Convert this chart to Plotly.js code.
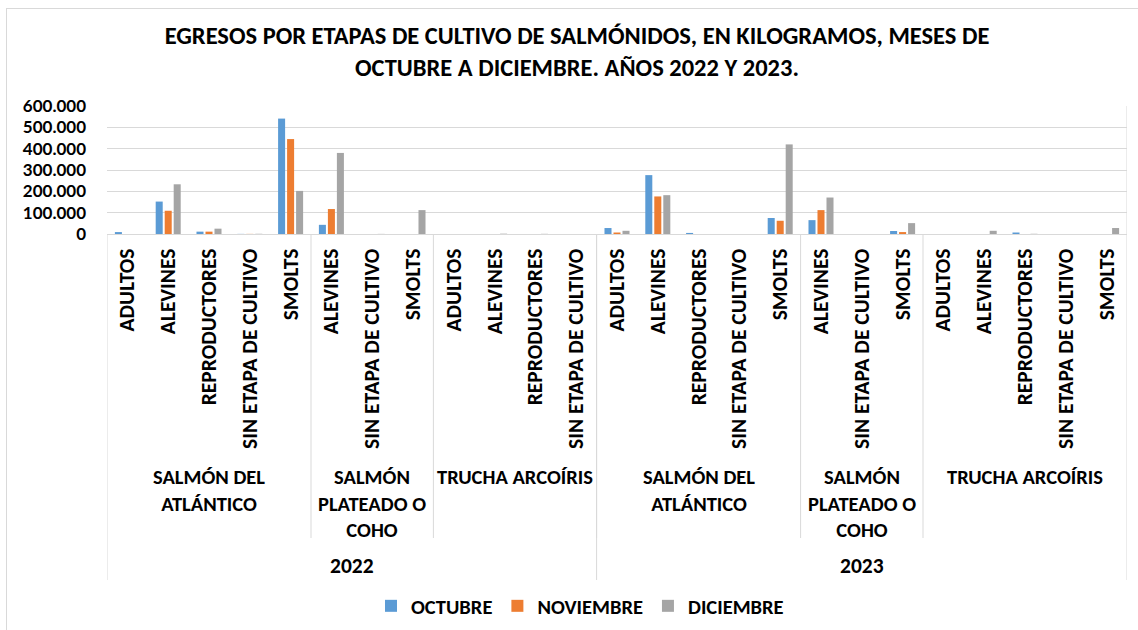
<!DOCTYPE html>
<html><head><meta charset="utf-8">
<script src="https://cdn.plot.ly/plotly-3.0.1.min.js"></script>
<style>
html,body{margin:0;padding:0;background:#fff}
#frame{position:absolute;left:6px;top:8px;width:1200px;height:700px;border:1px solid #d9d9d9;}
#chart{position:absolute;left:0;top:0;width:1138px;height:630px}
</style>
</head><body><div id="frame"></div><div id="chart"></div><script>
const years = ['2022','2022','2022','2022','2022','2022','2022','2022','2022','2022','2022','2022',
  '2023','2023','2023','2023','2023','2023','2023','2023','2023','2023','2023','2023','2023'];
const species = [
  'SALMÓN DEL ATLÁNTICO','SALMÓN DEL ATLÁNTICO','SALMÓN DEL ATLÁNTICO','SALMÓN DEL ATLÁNTICO','SALMÓN DEL ATLÁNTICO',
  'SALMÓN PLATEADO O COHO','SALMÓN PLATEADO O COHO','SALMÓN PLATEADO O COHO',
  'TRUCHA ARCOÍRIS','TRUCHA ARCOÍRIS','TRUCHA ARCOÍRIS','TRUCHA ARCOÍRIS',
  'SALMÓN DEL ATLÁNTICO','SALMÓN DEL ATLÁNTICO','SALMÓN DEL ATLÁNTICO','SALMÓN DEL ATLÁNTICO','SALMÓN DEL ATLÁNTICO',
  'SALMÓN PLATEADO O COHO','SALMÓN PLATEADO O COHO','SALMÓN PLATEADO O COHO',
  'TRUCHA ARCOÍRIS','TRUCHA ARCOÍRIS','TRUCHA ARCOÍRIS','TRUCHA ARCOÍRIS','TRUCHA ARCOÍRIS'];
const stages = [
  'ADULTOS','ALEVINES','REPRODUCTORES','SIN ETAPA DE CULTIVO','SMOLTS',
  'ALEVINES','SIN ETAPA DE CULTIVO','SMOLTS',
  'ADULTOS','ALEVINES','REPRODUCTORES','SIN ETAPA DE CULTIVO',
  'ADULTOS','ALEVINES','REPRODUCTORES','SIN ETAPA DE CULTIVO','SMOLTS',
  'ALEVINES','SIN ETAPA DE CULTIVO','SMOLTS',
  'ADULTOS','ALEVINES','REPRODUCTORES','SIN ETAPA DE CULTIVO','SMOLTS'];
const octubre   = [9000,152000,11000,500,541000, 43000,0,0, 0,0,0,0, 28000,276000,5000,0,75000, 65000,0,14000, 0,0,7000,0,0];
const noviembre = [0,109000,11000,500,445000, 117000,0,0, 0,0,0,0, 7000,176000,0,0,62000, 112000,0,9000, 0,0,0,0,0];
const diciembre = [0,233000,25000,1000,202000, 380000,500,112000, 0,1500,800,0, 15000,182000,0,0,420000, 171000,0,51000, 0,15000,1000,0,28000];
const seriesNames = ['OCTUBRE','NOVIEMBRE','DICIEMBRE'];
const seriesColors = ['#5B9BD5','#ED7D31','#A5A5A5'];
const titleText = 'EGRESOS POR ETAPAS DE CULTIVO DE SALMÓNIDOS, EN KILOGRAMOS, MESES DE<br>OCTUBRE A DICIEMBRE. AÑOS 2022 Y 2023.';

const W = 1138, H = 630;
const M = {l:107, r:11, t:106, b:396};
const plotW = W - M.l - M.r, plotH = H - M.t - M.b;
const pyToPaper = py => -(py - (H - M.b)) / plotH;   // pixel y -> paper y
const xs = stages.map((_, i) => i);
const n = xs.length;
const catPx = plotW / n;
const FAM = 'Carlito, Lato, sans-serif';
const font = (size, fam) => ({family:fam || FAM, size:size, color:'#000', weight:700});

function runs(keyFn){
  const out=[]; let s=0;
  for(let i=1;i<=n;i++){ if(i===n || keyFn(i)!==keyFn(s)){ out.push({start:s,end:i-1}); s=i; } }
  return out;
}
function wrap(text, maxPx){
  const maxChars = Math.floor(maxPx/10.5);
  const words = text.split(' '); const lines=[]; let cur='';
  words.forEach(w=>{ const t = cur ? cur+' '+w : w; if(t.length>maxChars && cur){ lines.push(cur); cur=w; } else cur=t; });
  if(cur) lines.push(cur);
  return lines.join('<br>');
}
const speciesRuns = runs(i => years[i]+'|'+species[i]);
const yearRuns = runs(i => years[i]);

const shapes = [];
const annotations = [];
speciesRuns.forEach((r, k) => {
  if (k>0) shapes.push({type:'line', xref:'x', yref:'paper', x0:r.start-0.5, x1:r.start-0.5, y0:0, y1:pyToPaper(538), line:{color:'#d9d9d9', width:1}});
  annotations.push({xref:'x', yref:'paper', x:(r.start+r.end)/2, y:pyToPaper(462), yanchor:'top', xanchor:'center',
    text: wrap(species[r.start], (r.end-r.start+1)*catPx), showarrow:false, font:font(20.5), align:'center'});
});
yearRuns.forEach((r, k) => {
  shapes.push({type:'line', xref:'x', yref:'paper', x0:r.start-0.5, x1:r.start-0.5, y0:0, y1:pyToPaper(580), line:{color:'#d9d9d9', width:1}});
  if (k===yearRuns.length-1) shapes.push({type:'line', xref:'x', yref:'paper', x0:r.end+0.5, x1:r.end+0.5, y0:1, y1:pyToPaper(580), line:{color:'#d9d9d9', width:1}});
  annotations.push({xref:'x', yref:'paper', x:(r.start+r.end)/2, y:pyToPaper(566), yanchor:'middle', xanchor:'center',
    text: years[r.start], showarrow:false, font:font(21.5)});
});

const values = [octubre, noviembre, diciembre];
const traces = values.map((v, k) => ({
  type:'bar', x:xs, y:v, name:seriesNames[k],
  marker:{color:seriesColors[k], line:{width:0}},
  hoverinfo:'skip'
}));

const layout = {
  width:W, height:H, margin:M,
  paper_bgcolor:'rgba(0,0,0,0)', plot_bgcolor:'rgba(0,0,0,0)',
  separators:',.',
  barmode:'group', bargap:0.338, bargroupgap:0.22,
  title:{text:titleText, font:font(24.5),
    xref:'container', x:577/W, xanchor:'center', yref:'container', y:1-44/H, yanchor:'middle'},
  xaxis:{range:[-0.5, n-0.5], tickmode:'array', tickvals:xs, ticktext:stages.map(s=>'<b>'+s+'</b>'), tickangle:-90,
    showgrid:false, zeroline:false, showline:true, linecolor:'#d9d9d9', linewidth:1, ticks:'',
    tickfont:font(21.5), automargin:false, ticklabelstandoff:5},
  yaxis:{range:[0,600000], dtick:100000, tick0:0, tickformat:',', showgrid:true, gridcolor:'#d9d9d9', gridwidth:1,
    zeroline:false, showline:false, ticks:'', tickfont:font(17, 'Lato, sans-serif'), automargin:false, ticklabelstandoff:20},
  legend:{orientation:'h', xref:'container', x:580/W, xanchor:'center', yref:'container', y:1-606/H, yanchor:'middle',
    font:font(20.5), itemwidth:30, traceorder:'normal'},
  shapes, annotations, showlegend:true
};
Plotly.newPlot('chart', traces, layout, {displayModeBar:false, staticPlot:true});
</script></body></html>
